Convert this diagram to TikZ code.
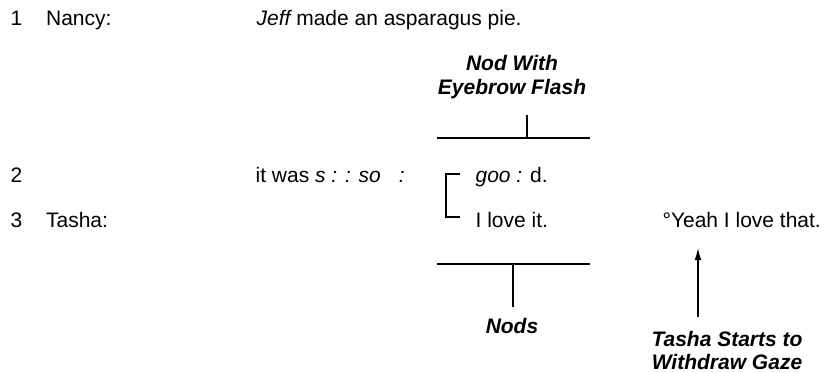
\documentclass[tikz,border=0pt]{standalone}
\usepackage{fontspec}
\setmainfont{Liberation Sans}
\usepackage{tikz}
\usetikzlibrary{arrows.meta}
\tikzset{every picture/.style={line width=0.9pt}}
\tikzset{turn/.style={anchor=base west, inner sep=0pt},
         gesture/.style={font=\bfseries\itshape, align=center, inner sep=0pt, anchor=north}}

\begin{document}
\begin{tikzpicture}[x=0.75pt,y=0.75pt,yscale=-1,xscale=1]
    \fontsize{15.75}{18}\selectfont
    \useasboundingbox (0,0) rectangle (828,372);
    % transcript lines
    \node[turn] (num1) at (10,25) {1};
    \node[turn] (nancy) at (45.5,25) {Nancy:};
    \node[turn] (pie) at (256,25) {{\itshape Jeff} made an asparagus pie.};
    \node[turn] (num2) at (10,182) {2};
    \node[turn] (sogood) at (255,182) {it was {\itshape s : : so\hspace{13.5pt}:}};
    \node[turn] (good) at (475,182) {{\itshape goo :} d.};
    \node[turn] (num3) at (10,227) {3};
    \node[turn] (tasha) at (45.5,227) {Tasha:};
    \node[turn] (loveit) at (475,227) {I love it.};
    \node[turn] (yeah) at (662,227) {°Yeah I love that.};
    % gesture labels
    \node[gesture] (flash) at (512,55) {Nod With\\Eyebrow Flash};
    \node[gesture] (nods) at (512,318) {Nods};
    \node[gesture, font=\bfseries\itshape\fontsize{15.75}{17}\selectfont] (gaze) at (727,331) {Tasha Starts to\\Withdraw Gaze};
    % marks
    \coordinate (topleft) at (437,138);
    \coordinate (topright) at (590,138);
    \coordinate (flashtick) at (527,115);
    \draw (topleft) -- (topright);
    \draw (flashtick) -- (flashtick |- topleft);
    \coordinate (botleft) at (437,264);
    \coordinate (botright) at (590,264);
    \coordinate (nodstick) at (513,307);
    \draw (botleft) -- (botright);
    \draw (nodstick |- botleft) -- (nodstick);
    \coordinate (brtop) at (460,174);
    \coordinate (brbot) at (460,217);
    \draw (brtop) -- +(-14,0) |- (brbot);
    \coordinate (gazetail) at (698,317);
    \coordinate (gazehead) at (698,248);
    \draw[-{Latex[length=9pt,width=5pt]}] (gazetail) -- (gazehead);
\end{tikzpicture}
\end{document}
